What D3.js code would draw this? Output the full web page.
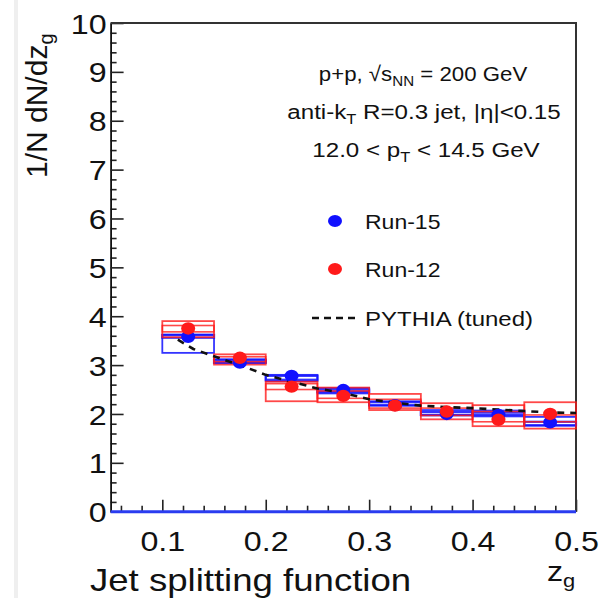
<!DOCTYPE html>
<html><head><meta charset="utf-8">
<script src="https://cdn.jsdelivr.net/npm/d3@7"></script>
<style>body{margin:0;background:#fff}svg{display:block}text{font-family:"Liberation Sans",Arial,sans-serif;fill:#111}</style>
</head><body>
<svg id="c" width="600" height="598"></svg>
<script>
// ---- data ----
const zgEdges = [0.10,0.15,0.20,0.25,0.30,0.35,0.40,0.45,0.50];
const run15      = [3.58,3.05,2.78,2.49,2.18,2.00,1.98,1.83];
const run15SysLo = [3.25,3.04,2.67,2.42,2.17,1.97,1.95,1.76];
const run15SysHi = [3.62,3.12,2.80,2.53,2.26,2.08,2.07,1.94];
const run15InLo  = [3.56,3.05,2.70,2.45,2.18,1.98,1.98,1.77];
const run15InHi  = [3.62,3.10,2.78,2.50,2.24,2.04,2.03,1.84];
const run12      = [3.75,3.15,2.56,2.37,2.17,2.05,1.88,2.00];
const run12SysLo = [3.57,3.01,2.26,2.24,2.08,1.89,1.75,1.70];
const run12SysHi = [3.90,3.22,2.66,2.54,2.41,2.22,2.18,2.24];
const run12InLo  = [3.68,3.07,2.50,2.32,2.12,1.97,1.84,1.84];
const run12InHi  = [3.81,3.17,2.62,2.47,2.30,2.12,2.05,1.98];
const pythiaZ   = [0.115,0.13,0.15,0.175,0.20,0.225,0.25,0.275,0.30,0.325,0.35,0.375,0.40,0.425,0.45,0.475,0.50];
const pythiaVal = [3.52,3.33,3.18,3.00,2.80,2.66,2.52,2.43,2.30,2.23,2.17,2.14,2.12,2.09,2.06,2.03,2.02];
const xMajor = [0.1,0.2,0.3,0.4,0.5];
const yMajor = [0,1,2,3,4,5,6,7,8,9,10];

// ---- layout ----
const SX = 1.15; // horizontal glyph stretch
const svg = d3.select("#c");
const x = d3.scaleLinear().domain([0.05,0.5]).range([110.6,576]);
const y = d3.scaleLinear().domain([0,10]).range([511.7,23]);
const BLUE = "#1010ff", RED = "#ff1a1a";

// faint strip at left
svg.append("rect").attr("x",14).attr("y",0).attr("width",4).attr("height",598).attr("fill","#efefef");

// axes
const yMinor = d3.range(0,10.001,0.2).filter(v=>Math.abs(v-Math.round(v))>1e-6);
const xMinor = d3.range(0.06,0.5001,0.02).filter(v=>Math.abs(v*10-Math.round(v*10))>1e-6);

svg.append("g").attr("transform",`translate(${x(0.05)},0)`)
  .call(d3.axisLeft(y).tickValues(yMinor).tickSize(-6).tickSizeOuter(0).tickFormat(""))
  .call(g=>g.select(".domain").remove())
  .call(g=>g.selectAll("line").attr("stroke","#222").attr("stroke-width",1.6));
const ya = svg.append("g").attr("transform",`translate(${x(0.05)},0)`)
  .call(d3.axisLeft(y).tickValues(yMajor).tickSize(-13).tickSizeOuter(0).tickPadding(4).tickFormat(d3.format("d")));
ya.select(".domain").attr("stroke","#111").attr("stroke-width",1.8);
ya.selectAll("line").attr("stroke","#222").attr("stroke-width",1.6);
ya.selectAll("text").attr("font-size",28).attr("fill","#111").attr("font-family","Liberation Sans, Arial, sans-serif")
  .attr("x",-4/SX).attr("dy","0.36em").attr("transform",`scale(${SX},1)`);

svg.append("g").attr("transform",`translate(0,${y(0)})`)
  .call(d3.axisBottom(x).tickValues(xMinor).tickSize(-6).tickSizeOuter(0).tickFormat(""))
  .call(g=>g.select(".domain").remove())
  .call(g=>g.selectAll("line").attr("stroke","#222").attr("stroke-width",1.6));
const xa = svg.append("g").attr("transform",`translate(0,${y(0)})`)
  .call(d3.axisBottom(x).tickValues(xMajor).tickSize(-12).tickSizeOuter(0).tickPadding(19).tickFormat(d3.format(".1f")));
xa.select(".domain").remove();
xa.selectAll("line").attr("stroke","#222").attr("stroke-width",1.6);
xa.selectAll("text").attr("font-size",28).attr("fill","#111").attr("font-family","Liberation Sans, Arial, sans-serif")
  .attr("transform",`scale(${SX},1)`);

// frame top/right
svg.append("path").attr("d",`M${x(0.05)},${y(10)}H${x(0.5)}V${y(0)}`).attr("fill","none").attr("stroke","#333").attr("stroke-width",2);
// blue base line at zero
svg.append("line").attr("x1",x(0.05)).attr("x2",x(0.5)).attr("y1",y(0)).attr("y2",y(0)).attr("stroke","#2a3cf0").attr("stroke-width",3);

// data
const bins = d3.range(run15.length).map(i=>({lo:zgEdges[i],hi:zgEdges[i+1],c:(zgEdges[i]+zgEdges[i+1])/2,i}));
function boxes(lo,hi,color,op,sw){
  svg.append("g").selectAll("rect").data(bins).join("rect")
    .attr("x",d=>x(d.lo)).attr("width",d=>x(d.hi)-x(d.lo))
    .attr("y",d=>y(hi[d.i])).attr("height",d=>Math.max(0.5,y(lo[d.i])-y(hi[d.i])))
    .attr("fill","none").attr("stroke",color).attr("stroke-opacity",op).attr("stroke-width",sw);
}
boxes(run15SysLo,run15SysHi,BLUE,0.85,1.8);
boxes(run15InLo,run15InHi,BLUE,0.85,2.2);
boxes(run12SysLo,run12SysHi,RED,0.8,1.8);
boxes(run12InLo,run12InHi,RED,0.8,1.6);

svg.append("path").datum(pythiaZ.map((z,i)=>[z,pythiaVal[i]]))
  .attr("d",d3.line().x(d=>x(d[0])).y(d=>y(d[1])))
  .attr("fill","none").attr("stroke","#111").attr("stroke-width",2.6).attr("stroke-dasharray","7,6");

function dots(vals,color){
  svg.append("g").selectAll("ellipse").data(bins).join("ellipse")
    .attr("cx",d=>x(d.c)).attr("cy",d=>y(vals[d.i])).attr("rx",7).attr("ry",6.2).attr("fill",color);
}
dots(run15,BLUE);
dots(run12,RED);

// text helper with horizontal stretch
function txt(px,py,size,anchor,parts,sx){
  const g = svg.append("g").attr("transform",`translate(${px},${py}) scale(${sx||SX},1)`);
  const t = g.append("text").attr("font-size",size).attr("text-anchor",anchor);
  parts.forEach(p=>{
    const s = t.append("tspan").text(p.t);
    if(p.sub){ s.attr("font-size",size*0.68).attr("baseline-shift","-30%"); }
    if(p.dx) s.attr("dx",p.dx);
  });
  return t;
}
// annotations
txt(423,81,21,"middle",[{t:"p+p, √"},{t:"s",},{t:"NN",sub:1},{t:" = 200 GeV"}],1.06);
txt(424,119,21,"middle",[{t:"anti-k"},{t:"T",sub:1},{t:" R=0.3 jet, |η|<0.15"}]);
txt(426,157,21,"middle",[{t:"12.0 < p"},{t:"T",sub:1},{t:" < 14.5 GeV"}]);

// legend
svg.append("ellipse").attr("cx",335).attr("cy",221).attr("rx",7).attr("ry",6).attr("fill",BLUE);
svg.append("ellipse").attr("cx",335).attr("cy",269).attr("rx",7).attr("ry",6).attr("fill",RED);
svg.append("line").attr("x1",312).attr("x2",357).attr("y1",318).attr("y2",318).attr("stroke","#111").attr("stroke-width",2.6).attr("stroke-dasharray","7,5");
txt(365,229,20,"start",[{t:"Run-15"}]);
txt(365,277,20,"start",[{t:"Run-12"}]);
txt(365,326,20,"start",[{t:"PYTHIA (tuned)"}],1.2);

// axis titles
svg.append("text").attr("transform","translate(47,178) rotate(-90)").attr("font-size",30).attr("text-anchor","start")
  .call(t=>{t.append("tspan").text("1/N dN/dz");t.append("tspan").text("g").attr("font-size",20).attr("baseline-shift","-30%");});
txt(90,591,31,"start",[{t:"Jet splitting function"}],1.18);
txt(547,581,28,"start",[{t:"z"},{t:"g",sub:1}]);
</script>
</body></html>
